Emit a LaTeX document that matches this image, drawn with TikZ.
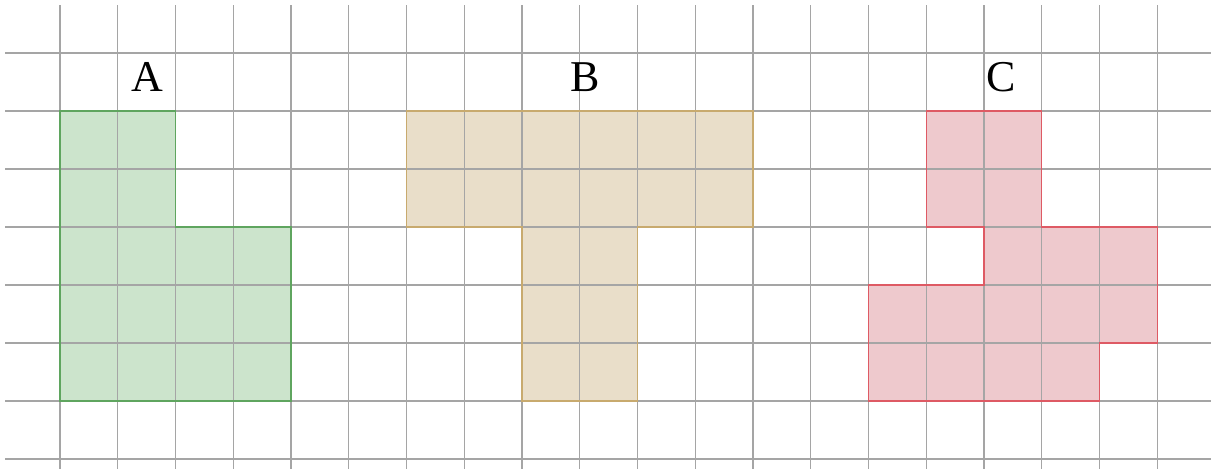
\documentclass[tikz,border=0pt]{standalone}
\usepackage{fontspec}
\setmainfont{Liberation Serif}
\definecolor{gridgray}{RGB}{165,165,165}
\definecolor{gfill}{RGB}{204,228,204}
\definecolor{gline}{RGB}{95,165,95}
\definecolor{tfill}{RGB}{233,222,201}
\definecolor{tline}{RGB}{200,170,110}
\definecolor{rfill}{RGB}{238,201,205}
\definecolor{rline}{RGB}{222,90,100}
\tikzset{
  gridline/.style={draw=gridgray, line width=1.4pt},
  shapeA/.style={fill=gfill, draw=gline, line width=1.3pt},
  shapeB/.style={fill=tfill, draw=tline, line width=1.3pt},
  shapeC/.style={fill=rfill, draw=rline, line width=1.3pt},
  shapefill/.style={draw=none},
  lbl/.style={font=\fontsize{44}{44}\selectfont, inner sep=0pt}
}
\begin{document}
\begin{tikzpicture}[x=1pt,y=-1pt]
\useasboundingbox (0,0) rectangle (1211,469);
\def\cx#1{\fpeval{60+57.75*(#1)}}
\newcommand{\gx}[1]{60+57.75*#1}
% fills
\fill[gfill] ({60+57.75*0},{53+58*1}) -- ({60+57.75*2},{53+58*1}) -- ({60+57.75*2},{53+58*3}) -- ({60+57.75*4},{53+58*3}) -- ({60+57.75*4},{53+58*6}) -- ({60+57.75*0},{53+58*6}) -- cycle;
\fill[tfill] ({60+57.75*6},{53+58*1}) -- ({60+57.75*12},{53+58*1}) -- ({60+57.75*12},{53+58*3}) -- ({60+57.75*10},{53+58*3}) -- ({60+57.75*10},{53+58*6}) -- ({60+57.75*8},{53+58*6}) -- ({60+57.75*8},{53+58*3}) -- ({60+57.75*6},{53+58*3}) -- cycle;
\fill[rfill] ({60+57.75*15},{53+58*1}) -- ({60+57.75*17},{53+58*1}) -- ({60+57.75*17},{53+58*3}) -- ({60+57.75*19},{53+58*3}) -- ({60+57.75*19},{53+58*5}) -- ({60+57.75*18},{53+58*5}) -- ({60+57.75*18},{53+58*6}) -- ({60+57.75*14},{53+58*6}) -- ({60+57.75*14},{53+58*4}) -- ({60+57.75*16},{53+58*4}) -- ({60+57.75*16},{53+58*3}) -- ({60+57.75*15},{53+58*3}) -- cycle;
% grid
\foreach \i in {0,...,19} {
  \draw[gridline] ({60+57.75*\i},5) -- ({60+57.75*\i},469);
}
\foreach \j in {0,...,7} {
  \draw[gridline] (5,{53+58*\j}) -- (1211,{53+58*\j});
}
% borders
\draw[draw=gline, line width=1.3pt] ({60+57.75*0},{53+58*1}) -- ({60+57.75*2},{53+58*1}) -- ({60+57.75*2},{53+58*3}) -- ({60+57.75*4},{53+58*3}) -- ({60+57.75*4},{53+58*6}) -- ({60+57.75*0},{53+58*6}) -- cycle;
\draw[draw=tline, line width=1.3pt] ({60+57.75*6},{53+58*1}) -- ({60+57.75*12},{53+58*1}) -- ({60+57.75*12},{53+58*3}) -- ({60+57.75*10},{53+58*3}) -- ({60+57.75*10},{53+58*6}) -- ({60+57.75*8},{53+58*6}) -- ({60+57.75*8},{53+58*3}) -- ({60+57.75*6},{53+58*3}) -- cycle;
\draw[draw=rline, line width=1.3pt] ({60+57.75*15},{53+58*1}) -- ({60+57.75*17},{53+58*1}) -- ({60+57.75*17},{53+58*3}) -- ({60+57.75*19},{53+58*3}) -- ({60+57.75*19},{53+58*5}) -- ({60+57.75*18},{53+58*5}) -- ({60+57.75*18},{53+58*6}) -- ({60+57.75*14},{53+58*6}) -- ({60+57.75*14},{53+58*4}) -- ({60+57.75*16},{53+58*4}) -- ({60+57.75*16},{53+58*3}) -- ({60+57.75*15},{53+58*3}) -- cycle;
% labels
\node[lbl, anchor=base] (labA) at (147,91) {A};
\node[lbl, anchor=base] (labB) at (585,91) {B};
\node[lbl, anchor=base] (labC) at (1001,91) {C};
\end{tikzpicture}
\end{document}
